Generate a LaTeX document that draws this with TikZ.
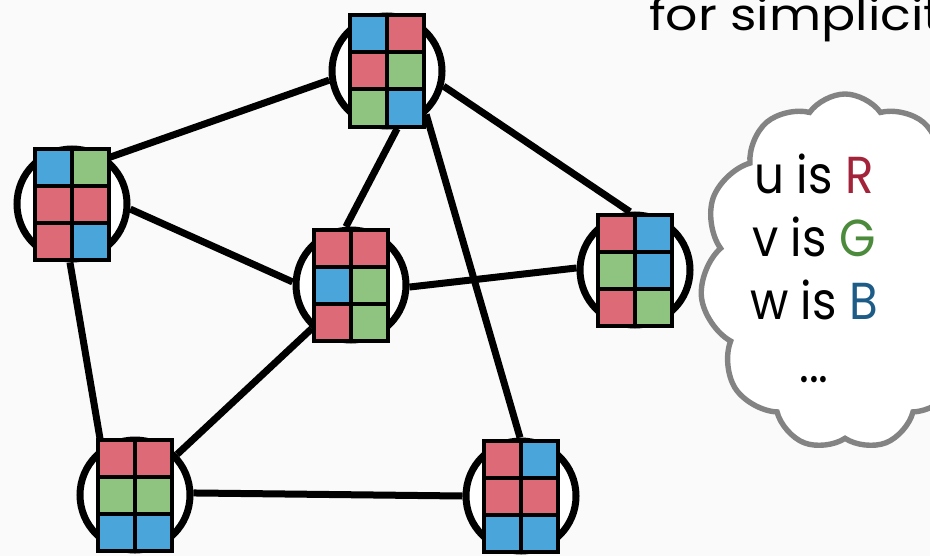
\documentclass[tikz,border=0pt]{standalone}
\usepackage{fontspec}
\setmainfont{Poppins}
\usetikzlibrary{shapes.symbols}
\definecolor{bgcol}{HTML}{FAFAFA}
\definecolor{cR}{HTML}{DC6A77}
\definecolor{cG}{HTML}{8FC480}
\definecolor{cB}{HTML}{4AA5DB}
\definecolor{tR}{HTML}{A3243A}
\definecolor{tG}{HTML}{4B8B3B}
\definecolor{tB}{HTML}{1E5C88}
\definecolor{cloudgray}{HTML}{838383}
\tikzset{
 vertex/.style={circle,draw,line width=3.5pt,minimum size=55pt,inner sep=0pt,fill=white},
 edge/.style={line width=3.5pt},
 cell/.style={draw,line width=2pt},
 cloudbox/.style={cloud,cloud puffs=11,cloud puff arc=110,draw=cloudgray,line width=2.7pt,fill=white,minimum width=145pt,minimum height=178pt}
}
% 2x3 colour grid on top of a vertex, colours row by row
\newcommand{\cellgrid}[7]{%
 \begin{scope}[shift={(#1)}]
 \filldraw[cell,fill=#2] (-37,-55.5) rectangle ++(37,37);
 \filldraw[cell,fill=#3] (0,-55.5) rectangle ++(37,37);
 \filldraw[cell,fill=#4] (-37,-18.5) rectangle ++(37,37);
 \filldraw[cell,fill=#5] (0,-18.5) rectangle ++(37,37);
 \filldraw[cell,fill=#6] (-37,18.5) rectangle ++(37,37);
 \filldraw[cell,fill=#7] (0,18.5) rectangle ++(37,37);
 \end{scope}}

\begin{document}
\begin{tikzpicture}[x=0.5pt,y=-0.5pt]
 \clip (0,0) rectangle (930,556);
 \fill[bgcol] (0,0) rectangle (930,556);
 \node[anchor=base west,font=\fontsize{22}{26}\selectfont\addfontfeature{FakeStretch=1.15}] (title) at (642,31) {for simplicit};
 \node[vertex] (V1) at (387,71) {};
 \node[vertex] (V2) at (72,204) {};
 \node[vertex] (V3) at (351,285) {};
 \node[vertex] (V4) at (635,270) {};
 \node[vertex] (V5) at (135,495) {};
 \node[vertex] (V6) at (521,496) {};
 \draw [edge] (V2.52) -- (V1.189);
 \draw [edge] (V1.-80) -- (V3.95);
 \draw [edge] (V1.-15) -- (V4.95);
 \draw [edge] (V1.-48) -- (V6.91);
 \draw [edge] (V2.-5) -- (V3.177);
 \draw [edge] (V2.-92) -- (V5.125);
 \draw [edge] (V3.-2) -- (V4.178);
 \draw [edge] (V3.-132) -- (V5.44);
 \draw [edge] (V5.2) -- (V6.180);
 \cellgrid{V1}{cB}{cR}{cR}{cG}{cG}{cB}
 \cellgrid{V2}{cB}{cG}{cR}{cR}{cR}{cB}
 \cellgrid{V3}{cR}{cR}{cB}{cG}{cR}{cG}
 \cellgrid{V4}{cR}{cB}{cG}{cB}{cR}{cG}
 \cellgrid{V5}{cR}{cR}{cG}{cG}{cB}{cB}
 \cellgrid{V6}{cR}{cB}{cR}{cR}{cB}{cB}
 \node[cloudbox] (memo) at (845,272) {};
 \node[align=center,font=\fontsize{26}{31.5}\selectfont\addfontfeature{FakeStretch=0.9}] (note) at (814,268)
  {u is \textcolor{tR}{R}\\ v is \textcolor{tG}{G}\\ w is \textcolor{tB}{B}\\ ...};
\end{tikzpicture}
\end{document}
